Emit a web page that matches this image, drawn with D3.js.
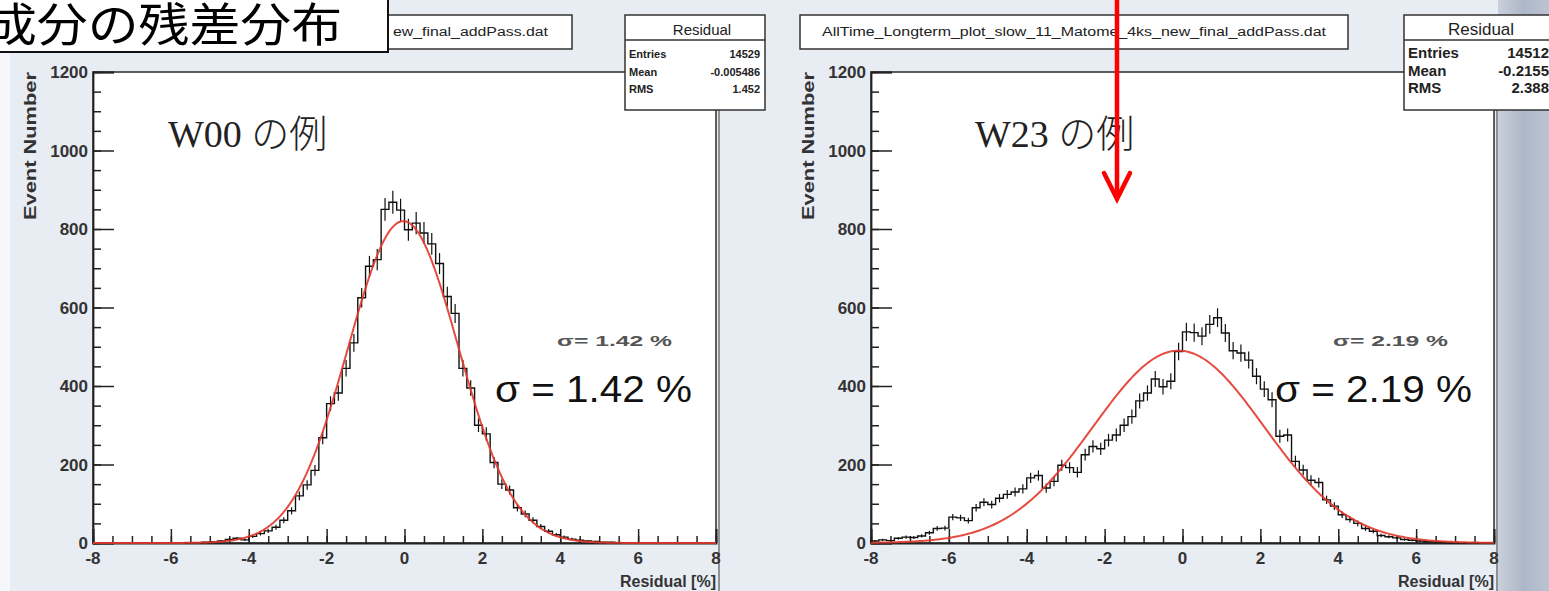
<!DOCTYPE html>
<html><head><meta charset="utf-8">
<script src="https://cdn.jsdelivr.net/npm/d3@7"></script>
<style>body{margin:0;background:#e8ecf3;overflow:hidden}svg{display:block}</style>
</head><body>
<svg id="c" width="1549" height="591"></svg>
<script>
// ---------------- data ----------------
const binStart = -8, binWidth = 0.2;
const w00Counts = [0,0,0,0,0,0,0,1,0,0, 1,0,1,1,2,3,5,9,12,8,
  17,24,31,40,58,82,120,148,185,268, 355,382,445,510,625,705,722,850,868,848,
  798,815,790,762,712,628,585,445,395,300, 278,205,150,135,90,74,58,42,30,21,
  15,10,7,5,4,2,2,1,1,0, 0,1,0,0,0,0,0,0,0,0];
const w23Counts = [5,8,6,12,15,14,18,26,37,38, 66,64,57,90,104,98,114,124,130,138,
  166,172,140,157,198,192,180,225,246,240, 262,275,300,322,362,382,418,398,412,488,
  538,536,527,557,574,535,490,484,466,425, 392,365,272,275,208,186,160,154,110,94,
  72,60,50,37,30,19,16,13,9,7, 5,3,3,2,1,1,0,1,0,0];
const fitW00 = [820, -0.03, 1.42];   // amplitude, mean, sigma
const fitW23 = [490, -0.10, 2.19];
const xTickLabels = [-8,-6,-4,-2,0,2,4,6,8];
const yTickLabels = [0,200,400,600,800,1000,1200];
const statsW00 = ["14529","-0.005486","1.452"];
const statsW23 = ["14512","-0.2155","2.388"];
const statNames = ["Entries","Mean","RMS"];
const titles = ["ew_final_addPass.dat",
                "AllTime_Longterm_plot_slow_11_Matome_4ks_new_final_addPass.dat"];
const labels = ["W00 の例","W23 の例"];
const sigmaText = ["σ = 1.42 %","σ = 2.19 %"];

// ---------------- drawing ----------------
const svg = d3.select("#c");
const W = 1549, H = 591;

const defs = svg.append("defs");
const g1 = defs.append("linearGradient").attr("id","photo").attr("x1",0).attr("x2",1).attr("y1",0).attr("y2",0);
g1.append("stop").attr("offset","0").attr("stop-color","#c9cfdb");
g1.append("stop").attr("offset","0.5").attr("stop-color","#aeb7c8");
g1.append("stop").attr("offset","1").attr("stop-color","#bcc4d3");
svg.append("rect").attr("width",W).attr("height",H).attr("fill","#e8ecf3");
svg.append("rect").attr("x",0).attr("y",52).attr("width",10).attr("height",H).attr("fill","#f6f7fa");
svg.append("rect").attr("x",1498).attr("width",51).attr("height",H).attr("fill","url(#photo)");

const font = "'Liberation Sans', Arial, sans-serif";

function panel(cfg){
  const x = d3.scaleLinear().domain([-8,8]).range([cfg.x0,cfg.x1]);
  const y = d3.scaleLinear().domain([0,1200]).range([543,72]);
  const g = svg.append("g");
  g.append("rect").attr("x",cfg.x0).attr("y",72).attr("width",cfg.x1-cfg.x0).attr("height",543-72)
    .attr("fill","#fff").attr("stroke","#2a2a2a").attr("stroke-width",1.5);
  g.append("line").attr("x1",cfg.x1+3).attr("x2",cfg.x1+3).attr("y1",110).attr("y2",H)
    .attr("stroke","#555").attr("stroke-width",1.2);

  g.append("g").attr("transform",`translate(${cfg.x0},0)`)
    .call(d3.axisRight(y).tickValues(d3.range(0,1201,50)).tickSize(8).tickFormat(""))
    .call(s=>{s.select(".domain").remove(); s.selectAll("line").attr("stroke","#222").attr("stroke-width",1.5);});
  g.append("g").attr("transform",`translate(${cfg.x0},0)`)
    .call(d3.axisRight(y).tickValues(yTickLabels).tickSize(21).tickFormat(""))
    .call(s=>{s.select(".domain").attr("stroke","#222").attr("stroke-width",1.8); s.selectAll("line").attr("stroke","#222").attr("stroke-width",1.5);});
  g.append("g").selectAll("text").data(yTickLabels).join("text")
    .attr("x",cfg.x0-5).attr("y",d=>y(d)+6).attr("text-anchor","end")
    .attr("font-family",font).attr("font-weight","bold").attr("font-size",17).attr("fill","#333")
    .text(d=>d);
  g.append("g").attr("transform","translate(0,543)")
    .call(d3.axisTop(x).tickValues(d3.range(-8,8.01,0.5)).tickSize(7).tickFormat(""))
    .call(s=>{s.select(".domain").remove(); s.selectAll("line").attr("stroke","#222").attr("stroke-width",1.5);});
  g.append("g").attr("transform","translate(0,543)")
    .call(d3.axisTop(x).tickValues(xTickLabels).tickSize(14).tickFormat(""))
    .call(s=>{s.select(".domain").attr("stroke","#222").attr("stroke-width",1.8); s.selectAll("line").attr("stroke","#222").attr("stroke-width",1.5);});
  g.append("g").selectAll("text").data(xTickLabels).join("text")
    .attr("x",d=>x(d)).attr("y",564).attr("text-anchor","middle")
    .attr("font-family",font).attr("font-weight","bold").attr("font-size",17).attr("fill","#333")
    .text(d=>d);
  g.append("text").attr("x",cfg.x1).attr("y",587).attr("text-anchor","end")
    .attr("font-family",font).attr("font-weight","bold").attr("font-size",16).attr("fill","#333")
    .text("Residual [%]");
  g.append("text").attr("transform",`translate(${cfg.x0-57},72) rotate(-90)`).attr("text-anchor","end")
    .attr("font-family",font).attr("font-weight","bold").attr("font-size",16).attr("fill","#333")
    .attr("textLength",148).attr("lengthAdjust","spacingAndGlyphs")
    .text("Event Number");

  const pts = [];
  cfg.counts.forEach((c,i)=>{ const a = binStart+i*binWidth; pts.push([a,c],[a+binWidth,c]); });
  const line = d3.line().x(d=>x(d[0])).y(d=>y(d[1]));
  g.append("path").attr("d",line([[-8,0],...pts,[8,0]])).attr("fill","none")
    .attr("stroke","#111").attr("stroke-width",1.4);
  g.append("g").selectAll("line").data(cfg.counts.map((c,i)=>[binStart+(i+0.5)*binWidth,c]).filter(d=>d[1]>0)).join("line")
    .attr("x1",d=>x(d[0])).attr("x2",d=>x(d[0]))
    .attr("y1",d=>y(Math.max(0,d[1]-Math.sqrt(d[1])))).attr("y2",d=>y(d[1]+Math.sqrt(d[1])))
    .attr("stroke","#111").attr("stroke-width",1.2);
  const [A,mu,s] = cfg.fit;
  const fx = d3.range(-8,8.0001,0.04);
  g.append("path").attr("d",d3.line().x(d=>x(d)).y(d=>y(A*Math.exp(-((d-mu)*(d-mu))/(2*s*s))))(fx))
    .attr("fill","none").attr("stroke","#e2392c").attr("stroke-width",2).attr("stroke-opacity",0.9);

  g.append("text").attr("x",cfg.labelX).attr("y",147)
    .attr("font-family","'Liberation Serif','Noto Sans CJK JP',serif").attr("font-size",38).attr("fill","#222")
    .attr("font-weight",300).text(cfg.label);
  g.append("text").attr("x",cfg.smallX).attr("y",346)
    .attr("font-family",font).attr("font-weight","bold").attr("font-size",14).attr("fill","#555")
    .attr("textLength",115).attr("lengthAdjust","spacingAndGlyphs").text(cfg.sigma.replace(" = ","=  ").replace(" %","  %"));
  g.append("text").attr("x",cfg.bigX).attr("y",402)
    .attr("font-family",font).attr("font-size",36).attr("fill","#111")
    .attr("textLength",197).attr("lengthAdjust","spacingAndGlyphs").text(cfg.sigma);

  g.append("rect").attr("x",cfg.tx0).attr("y",15).attr("width",548).attr("height",34)
    .attr("fill","#fff").attr("stroke","#333").attr("stroke-width",1.5);
  g.append("text").attr("x",cfg.tEnd).attr("y",36).attr("text-anchor","end")
    .attr("font-family",font).attr("font-size",12).attr("fill","#222")
    .attr("textLength",cfg.tLen).attr("lengthAdjust","spacingAndGlyphs").text(cfg.title);

  const sx = cfg.sx0, sw = cfg.sw;
  g.append("rect").attr("x",sx).attr("y",15).attr("width",sw).attr("height",95)
    .attr("fill","#fff").attr("stroke","#333").attr("stroke-width",1.5);
  g.append("line").attr("x1",sx).attr("x2",sx+sw).attr("y1",40).attr("y2",40).attr("stroke","#333").attr("stroke-width",1.5);
  g.append("text").attr("x",sx+cfg.hdrX).attr("y",35).attr("text-anchor","middle")
    .attr("font-family",font).attr("font-size",cfg.hdrFs).attr("fill","#222").text("Residual");
  statNames.forEach((n,i)=>{
    g.append("text").attr("x",sx+4).attr("y",58+i*17.5)
      .attr("font-family",font).attr("font-weight","bold").attr("font-size",cfg.statFs).attr("fill","#222").text(n);
    g.append("text").attr("x",cfg.valEnd).attr("y",58+i*17.5).attr("text-anchor","end")
      .attr("font-family",font).attr("font-weight","bold").attr("font-size",cfg.statFs).attr("fill","#222").text(cfg.stats[i]);
  });
}

panel({x0:93,x1:716,counts:w00Counts,fit:fitW00,label:labels[0],labelX:168,smallX:557,bigX:495,sigma:sigmaText[0],
  tx0:24,tEnd:548,tLen:155,title:titles[0],sx0:625,sw:140,hdrX:77,hdrFs:15,statFs:11,valEnd:760,stats:statsW00});
panel({x0:871,x1:1494,counts:w23Counts,fit:fitW23,label:labels[1],labelX:975,smallX:1333,bigX:1275,sigma:sigmaText[1],
  tx0:800,tEnd:1326,tLen:504,title:titles[1],sx0:1404,sw:160,hdrX:77,hdrFs:17,statFs:15,valEnd:1549,stats:statsW23});

svg.append("rect").attr("x",-2).attr("y",-2).attr("width",390).attr("height",54)
  .attr("fill","#fff").attr("stroke","#111").attr("stroke-width",2);
svg.append("text").attr("x",-14).attr("y",41)
  .attr("font-family","'Noto Sans CJK JP',sans-serif").attr("font-size",46).attr("fill","#000")
  .attr("textLength",356).attr("lengthAdjust","spacingAndGlyphs").text("成分の残差分布");

svg.append("line").attr("x1",1117).attr("x2",1117).attr("y1",0).attr("y2",197)
  .attr("stroke","#ff0000").attr("stroke-width",4.5);
svg.append("path").attr("d","M1104,173 L1117,199 L1130,173").attr("fill","none")
  .attr("stroke","#ff0000").attr("stroke-width",4.5).attr("stroke-linecap","round").attr("stroke-linejoin","miter");
</script>
</body></html>
